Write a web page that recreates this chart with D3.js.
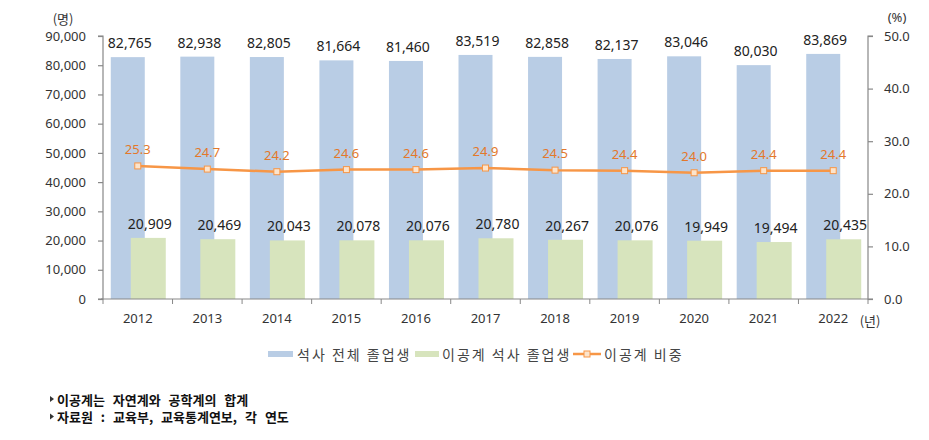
<!DOCTYPE html>
<html><head><meta charset="utf-8">
<script src="https://cdn.jsdelivr.net/npm/d3@7"></script>
<style>body{margin:0;background:#fff}svg{display:block}</style>
</head><body><svg id="c" width="929" height="440"></svg>
<script>
const years = ["2012","2013","2014","2015","2016","2017","2018","2019","2020","2021","2022"];
const totalGrads = [82765,82938,82805,81664,81460,83519,82858,82137,83046,80030,83869];
const stemGrads = [20909,20469,20043,20078,20076,20780,20267,20076,19949,19494,20435];
const stemShare = [25.3,24.7,24.2,24.6,24.6,24.9,24.5,24.4,24.0,24.4,24.4];
const leftTicks = [0,10000,20000,30000,40000,50000,60000,70000,80000,90000];
const rightTicks = [0,10,20,30,40,50];
const seriesNames = ["석사 전체 졸업생","이공계 석사 졸업생","이공계 비중"];
const notes = ["이공계는 자연계와 공학계의 합계","자료원 : 교육부, 교육통계연보, 각 연도"];

const svg = d3.select("#c");
const F = "'Noto Sans','Noto Sans CJK KR',sans-serif";
const KF = "'Noto Sans CJK KR',sans-serif";
const blue="#B9CDE5", green="#D7E4BD", orange="#F79646", orangeText="#E4782A";
const L=103, R=868, T=36, B=299;
const x = d3.scaleBand().domain(years).range([L,R]);
const yL = d3.scaleLinear().domain([0,90000]).range([B,T]);
const yR = d3.scaleLinear().domain([0,50]).range([B,T]);
const bw = 34, off = 10;
const fmt = d3.format(",");

// bars
svg.append("g").selectAll("rect").data(years).join("rect")
  .attr("x",(d)=>x(d)+x.bandwidth()/2-off-bw/2).attr("width",bw)
  .attr("y",(d,i)=>yL(totalGrads[i])).attr("height",(d,i)=>B-yL(totalGrads[i]))
  .attr("fill",blue);
svg.append("g").selectAll("rect").data(years).join("rect")
  .attr("x",(d)=>x(d)+x.bandwidth()/2+off-bw/2).attr("width",bw+1)
  .attr("y",(d,i)=>yL(stemGrads[i])).attr("height",(d,i)=>B-yL(stemGrads[i]))
  .attr("fill",green);

// axes
const axL = svg.append("g").attr("transform",`translate(${L},0)`)
  .call(d3.axisLeft(yL).tickValues(leftTicks).tickFormat(fmt).tickSize(5).tickPadding(12));
const axR = svg.append("g").attr("transform",`translate(${R},0)`)
  .call(d3.axisRight(yR).tickValues(rightTicks).tickFormat(d3.format(".1f")).tickSize(5).tickPadding(11));
const axX = svg.append("g").attr("transform",`translate(0,${B})`)
  .call(d3.axisBottom(x).tickSize(0).tickPadding(15));
svg.append("g").selectAll("line").data(years.concat(["end"])).join("line")
  .attr("x1",(d,i)=>L+i*x.bandwidth()).attr("x2",(d,i)=>L+i*x.bandwidth())
  .attr("y1",B).attr("y2",B+5).attr("stroke","#888").attr("stroke-width",1);
[axL,axR,axX].forEach(a=>{
  a.selectAll("path,line").attr("stroke","#888").attr("stroke-width",1.2);
  a.selectAll("text").attr("font-family",F).attr("font-size",13).attr("fill","#333");
});
axL.select(".domain").attr("d",`M-5,${T}H0V${B}H-5`);
axR.select(".domain").attr("d",`M5,${T}H0V${B}H5`);
axX.select(".domain").attr("d",`M${L-2},0H${R}`);

// unit labels
svg.append("text").attr("x",63).attr("y",24).attr("text-anchor","middle")
  .attr("font-family",KF).attr("font-size",13).attr("fill","#333").text("(명)");
svg.append("text").attr("x",897).attr("y",22).attr("text-anchor","middle")
  .attr("font-family",F).attr("font-size",13).attr("fill","#333").text("(%)");
svg.append("text").attr("x",870).attr("y",326).attr("text-anchor","middle")
  .attr("font-family",KF).attr("font-size",13).attr("fill","#333").text("(년)");

// value labels
svg.append("g").selectAll("text").data(years).join("text")
  .attr("x",(d)=>x(d)+x.bandwidth()/2-off+2).attr("y",(d,i)=>yL(totalGrads[i])-9)
  .attr("text-anchor","middle").attr("font-family",F).attr("font-size",14).attr("fill","#222")
  .text((d,i)=>fmt(totalGrads[i]));
svg.append("g").selectAll("text").data(years).join("text")
  .attr("x",(d)=>x(d)+x.bandwidth()/2+off+2).attr("y",(d,i)=>yL(stemGrads[i])-9)
  .attr("text-anchor","middle").attr("font-family",F).attr("font-size",14).attr("fill","#222")
  .text((d,i)=>fmt(stemGrads[i]));

// line
const cx = d=>x(d)+x.bandwidth()/2;
svg.append("path").datum(years)
  .attr("d",d3.line().x(cx).y((d,i)=>yR(stemShare[i])))
  .attr("fill","none").attr("stroke",orange).attr("stroke-width",2.5);
svg.append("g").selectAll("rect").data(years).join("rect")
  .attr("x",d=>cx(d)-3).attr("y",(d,i)=>yR(stemShare[i])-3).attr("width",6).attr("height",6)
  .attr("fill","#FCE4CC").attr("stroke",orange).attr("stroke-width",1);
svg.append("g").selectAll("text").data(years).join("text")
  .attr("x",cx).attr("y",(d,i)=>yR(stemShare[i])-12)
  .attr("text-anchor","middle").attr("font-family",F).attr("font-size",13).attr("fill",orangeText)
  .text((d,i)=>stemShare[i].toFixed(1));

// legend
const lg = svg.append("g").attr("font-family",KF).attr("font-size",14).attr("fill","#444").attr("letter-spacing","2px");
lg.append("rect").attr("x",268).attr("y",351).attr("width",25).attr("height",6).attr("fill",blue);
lg.append("text").attr("x",297).attr("y",360).text(seriesNames[0]);
lg.append("rect").attr("x",415).attr("y",351).attr("width",24).attr("height",6).attr("fill",green);
lg.append("text").attr("x",442).attr("y",360).text(seriesNames[1]);
lg.append("line").attr("x1",573).attr("x2",601).attr("y1",354).attr("y2",354).attr("stroke",orange).attr("stroke-width",2.5);
lg.append("rect").attr("x",584).attr("y",351).attr("width",6).attr("height",6).attr("fill","#FCE4CC").attr("stroke",orange).attr("stroke-width",1);
lg.append("text").attr("x",604).attr("y",360).text(seriesNames[2]);

// notes
const ng = svg.append("g").attr("font-family",KF).attr("font-size",13).attr("font-weight","bold")
  .attr("fill","#111").attr("word-spacing","5px");
notes.forEach((n,i)=>{
  ng.append("path").attr("d",`M50,${396+i*17.5}l4,3l-4,3z`).attr("fill","#333");
  ng.append("text").attr("x",57).attr("y",404.5+i*17.5).text(n);
});
</script></body></html>
